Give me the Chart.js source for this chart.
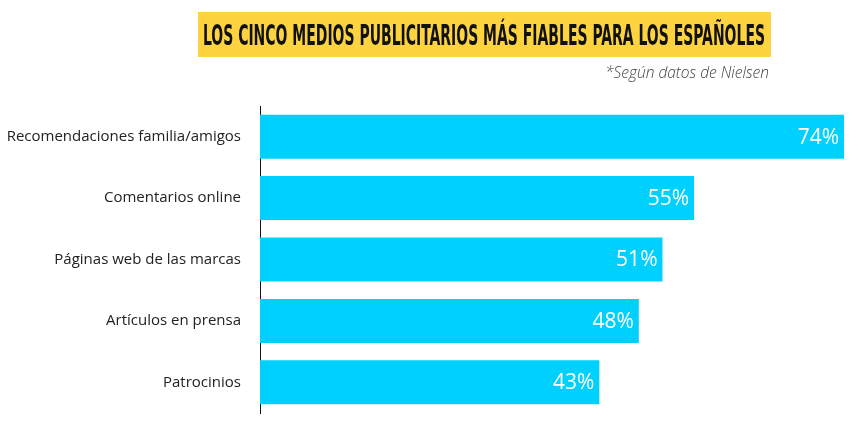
<!DOCTYPE html>
<html>
<head>
<meta charset="utf-8">
<script src="https://cdn.jsdelivr.net/npm/chart.js@4"></script>
<style>
  html, body { margin: 0; padding: 0; background: #ffffff; }
  #wrap { width: 858px; height: 433px; position: relative; }
</style>
</head>
<body>
<div id="wrap"><canvas id="c" width="858" height="433"></canvas></div>
<script>
const categories = [
  'Recomendaciones familia/amigos',
  'Comentarios online',
  'Páginas web de las marcas',
  'Artículos en prensa',
  'Patrocinios'
];
const values = [74, 55, 51, 48, 43];
const valueLabels = ['74%', '55%', '51%', '48%', '43%'];
const titleText = 'LOS CINCO MEDIOS PUBLICITARIOS MÁS FIABLES PARA LOS ESPAÑOLES';
const subtitleText = '*Según datos de Nielsen';

const headerPlugin = {
  id: 'header',
  beforeDraw(chart) {
    const ctx = chart.ctx;
    ctx.save();
    ctx.fillStyle = '#FDD440';
    ctx.fillRect(198, 12, 573, 45);
    ctx.font = 'bold 28px "DejaVu Sans Condensed", "DejaVu Sans", sans-serif';
    ctx.fillStyle = '#111111';
    ctx.textBaseline = 'alphabetic';
    ctx.textAlign = 'left';
    const w = ctx.measureText(titleText).width;
    const target = 562;
    ctx.translate(203, 44.5);
    ctx.scale(target / w, 1);
    ctx.fillText(titleText, 0, 0);
    ctx.restore();

    ctx.save();
    ctx.font = 'italic 300 15.5px "Open Sans", sans-serif';
    ctx.fillStyle = '#444444';
    ctx.textAlign = 'right';
    ctx.textBaseline = 'middle';
    ctx.fillText(subtitleText, 769, 74);
    ctx.restore();
  }
};

const valuePlugin = {
  id: 'values',
  afterDatasetsDraw(chart) {
    const ctx = chart.ctx;
    const meta = chart.getDatasetMeta(0);
    ctx.save();
    ctx.font = '21px "Open Sans", sans-serif';
    ctx.fillStyle = '#ffffff';
    ctx.textAlign = 'right';
    ctx.textBaseline = 'middle';
    meta.data.forEach((bar, i) => {
      ctx.fillText(valueLabels[i], bar.x - 5, bar.y + 1);
    });
    ctx.restore();
  }
};

new Chart(document.getElementById('c'), {
  type: 'bar',
  data: {
    labels: categories,
    datasets: [{
      data: values,
      backgroundColor: '#00D0FE',
      borderWidth: 0,
      barPercentage: 0.717,
      categoryPercentage: 1
    }]
  },
  options: {
    indexAxis: 'y',
    responsive: false,
    animation: false,
    devicePixelRatio: 1,
    layout: { padding: { top: 106, bottom: 20, left: 0, right: 14 } },
    plugins: {
      legend: { display: false },
      tooltip: { enabled: false },
      title: { display: false }
    },
    scales: {
      x: {
        display: false,
        min: 0,
        max: 74
      },
      y: {
        afterFit(scale) {
          scale.width = 260;
          scale.paddingTop = 0;
          scale.paddingBottom = 0;
        },
        grid: { display: false, drawTicks: false },
        border: { display: true, color: '#111111', width: 1 },
        ticks: {
          padding: 19,
          color: '#222222',
          font: { family: '"Open Sans", sans-serif', size: 15 }
        }
      }
    }
  },
  plugins: [headerPlugin, valuePlugin]
});
</script>
</body>
</html>
